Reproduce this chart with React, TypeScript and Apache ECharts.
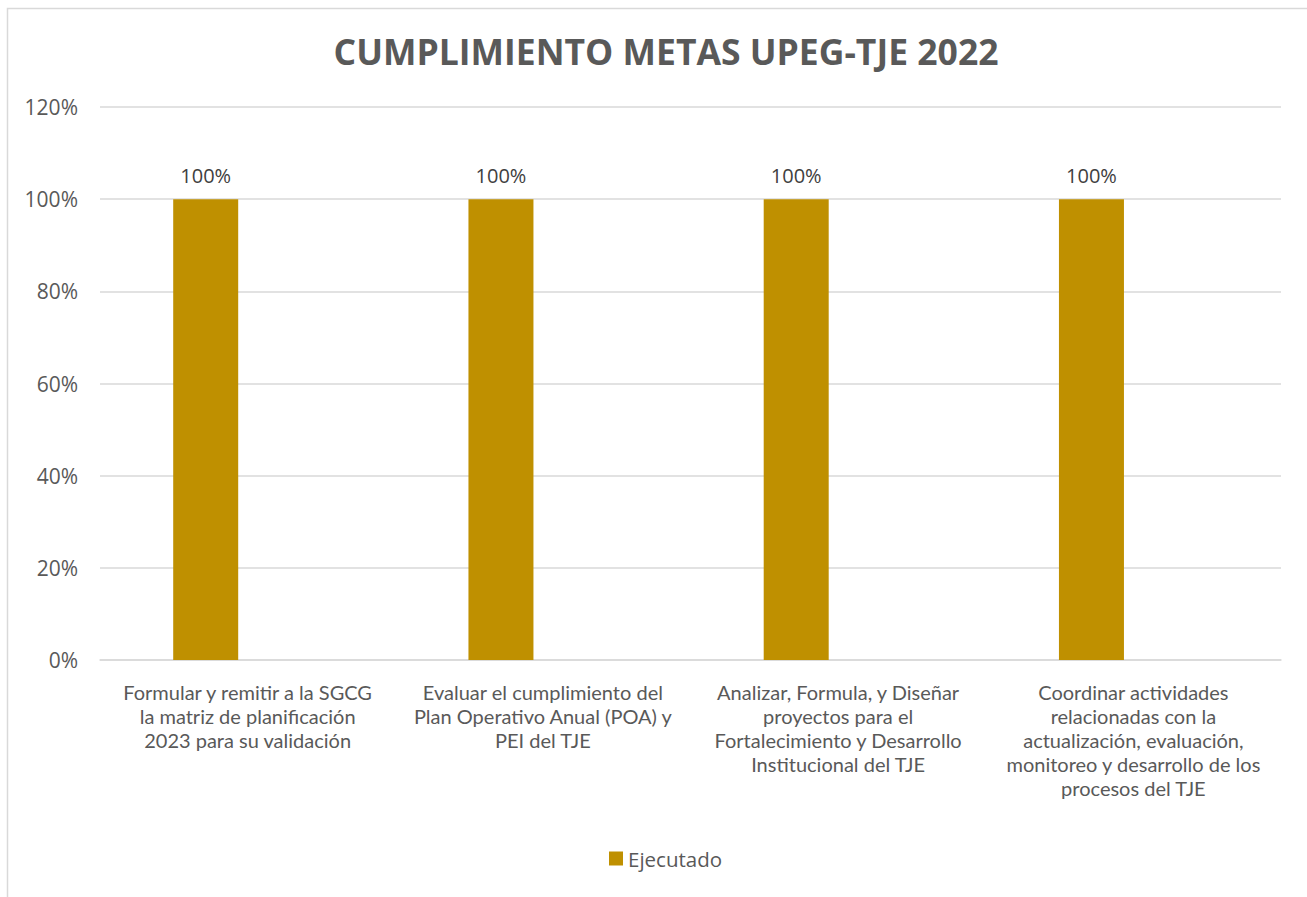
import React, { useEffect, useRef } from "react";
import * as echarts from "echarts";

const title = "CUMPLIMIENTO METAS UPEG-TJE 2022";
const categories = [
  "Formular y remitir a la SGCG\nla matriz de planificación\n2023 para su validación",
  "Evaluar el cumplimiento del\nPlan Operativo Anual (POA) y\nPEI del TJE",
  "Analizar, Formula, y Diseñar\nproyectos para el\nFortalecimiento y Desarrollo\nInstitucional del TJE",
  "Coordinar actividades\nrelacionadas con la\nactualización, evaluación,\nmonitoreo y desarrollo de los\nprocesos del TJE",
];
const ejecutado = [1, 1, 1, 1];
const yTicks = [0, 0.2, 0.4, 0.6, 0.8, 1.0, 1.2];

export default function App() {
  const ref = useRef<HTMLDivElement>(null);
  useEffect(() => {
    document.body.style.margin = "0";
    const chart = echarts.init(ref.current!, null, { renderer: "svg" });
    chart.setOption({
      animation: false,
      backgroundColor: "#ffffff",
      graphic: [
        {
          type: "rect",
          shape: { x: 7.5, y: 8.5, width: 1400, height: 1000 },
          style: { fill: "none", stroke: "#d9d9d9", lineWidth: 1.5 },
          silent: true,
        },
      ],
      title: {
        text: title,
        left: 661,
        textAlign: "center",
        top: 28,
        textStyle: {
          fontFamily: "Open Sans",
          fontWeight: "bold",
          fontSize: 35.5,
          color: "#595959",
        },
      },
      legend: {
        data: ["Ejecutado"],
        bottom: 23,
        left: 604,
        itemWidth: 14,
        itemHeight: 14,
        icon: "rect",
        itemGap: 8,
        textStyle: { fontFamily: "Open Sans", fontSize: 20.5, color: "#595959" },
      },
      grid: { left: 100, right: 26, top: 107, bottom: 237, containLabel: false },
      xAxis: {
        type: "category",
        data: categories,
        axisTick: { show: false },
        axisLine: { lineStyle: { color: "#d9d9d9", width: 1.5 } },
        axisLabel: {
          interval: 0,
          fontFamily: "Lato",
          fontSize: 20,
          lineHeight: 24,
          color: "#595959",
          margin: 20,
        },
      },
      yAxis: {
        type: "value",
        min: 0,
        max: yTicks[yTicks.length - 1],
        interval: 0.2,
        axisLine: { show: false },
        axisTick: { show: false },
        splitLine: { lineStyle: { color: "#d9d9d9", width: 1.5 } },
        axisLabel: {
          formatter: (v: number) => Math.round(v * 100) + "%",
          fontFamily: "Open Sans",
          fontSize: 21,
          color: "#595959",
          margin: 22,
        },
      },
      series: [
        {
          name: "Ejecutado",
          type: "bar",
          data: ejecutado,
          barWidth: 65,
          barGap: "29%",
          itemStyle: { color: "#bf9000" },
          label: {
            show: true,
            position: "top",
            distance: 14,
            formatter: (p: any) => Math.round(p.value * 100) + "%",
            fontFamily: "Open Sans",
            fontSize: 20,
            color: "#404040",
          },
        },
        {
          name: "hidden",
          type: "bar",
          data: ejecutado.map(() => null),
          barWidth: 65,
          itemStyle: { color: "transparent" },
        },
      ],
    });
    return () => chart.dispose();
  }, []);
  return <div ref={ref} style={{ width: 1307, height: 897 }} />;
}
